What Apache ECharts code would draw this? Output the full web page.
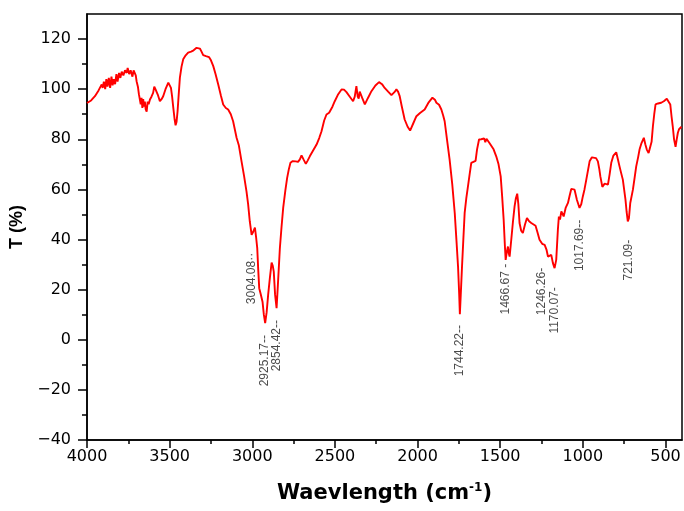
<!DOCTYPE html>
<html>
<head>
<meta charset="utf-8">
<script src="https://cdn.jsdelivr.net/npm/echarts@6/dist/echarts.min.js"></script>
<style>html,body{margin:0;padding:0;background:#fff;}#chart{width:684px;height:511px;}</style>
</head>
<body>
<div id="chart"></div>
<script>
// Wavenumber (cm-1), descending
const wavenumbers = [4000,3975,3952,3930,3911,3905,3898,3890,3883,3876,3868,3860,3852,3845,3838,3830,3822,3815,3806,3798,3790,3780,3770,3760,3754,3745,3736,3725,3718,3714,3705,3700,3692,3686,3680,3675,3670,3665,3660,3655,3650,3645,3639,3633,3627,3619,3610,3600,3593,3586,3579,3570,3559,3549,3539,3525,3508,3500,3492,3485,3478,3470,3464,3458,3452,3445,3438,3428,3418,3403,3388,3370,3355,3337,3325,3317,3307,3297,3280,3262,3250,3236,3222,3206,3190,3176,3160,3146,3130,3116,3095,3081,3065,3050,3035,3025,3015,3004,2995,2984,2977,2970,2964,2958,2948,2938,2930,2922,2913,2904,2893,2883,2876,2870,2862,2853,2845,2833,2823,2813,2800,2789,2779,2769,2755,2737,2723,2712,2702,2690,2676,2665,2652,2632,2611,2595,2581,2565,2551,2535,2527,2515,2501,2480,2460,2445,2430,2410,2390,2380,2370,2362,2356,2350,2344,2335,2319,2300,2279,2255,2233,2215,2199,2178,2158,2140,2128,2118,2108,2095,2078,2060,2045,2037,2025,2007,1985,1957,1935,1910,1895,1886,1870,1856,1845,1836,1822,1806,1790,1775,1765,1755,1748,1744,1740,1731,1723,1715,1705,1695,1685,1675,1662,1649,1640,1628,1615,1604,1597,1590,1583,1574,1565,1554,1540,1524,1510,1497,1488,1479,1472,1467,1460,1453,1448,1443,1433,1423,1413,1405,1397,1390,1383,1373,1363,1350,1338,1325,1312,1300,1286,1275,1262,1246,1231,1220,1211,1201,1191,1181,1171,1161,1151,1145,1138,1130,1116,1104,1090,1080,1070,1060,1050,1036,1020,1010,1000,990,979,959,945,933,920,909,900,894,882,868,848,838,828,815,798,788,778,768,758,742,735,728,721,713,697,687,677,665,657,645,631,622,613,602,592,584,576,568,560,545,526,510,492,480,471,463,456,448,439,432,425,418,411,403];
// Transmittance (%)
const transmittance = [94.5,95.5,97.2,99.5,101.9,100.5,103,100,104,101,104.5,100.5,105,101.5,104,102,106,103,106.5,104.5,107,105.5,107.5,106.5,108.5,106,107.5,105,107.5,107.2,105.5,103.2,101,98,97.9,94,96.5,92.5,96,93,95,92,91,95,94,95.9,97,98.5,101,100,99.9,97.5,95.2,96,97.2,100,102.6,102,100.5,97,92.6,88,85.6,87,91.2,98,104.6,109,111.9,113.5,114.6,115,115.5,116.5,116.2,116.2,115,113.6,113.2,112.8,111.5,109.2,106,101.9,97.5,93.9,92.5,91.9,90,87.2,80.6,77.5,71.2,65.5,59.2,54,47.2,41.9,43,44.8,41,36.6,28,20.6,18,15.2,10,6.6,11,17.9,25,30.8,29.5,27.2,18,12.6,22,36.6,45,52.6,59.5,64.6,68,70.6,71.3,71.2,71,72,73.6,72,70.2,71.5,73.2,75.5,77.9,80.5,83.2,87.5,89.9,90.6,91,93,95.2,98,99.9,99.8,98.8,97,95.2,97,101.2,97,96.2,99,98.8,96.5,93.9,96.5,99.2,101.5,102.8,102,100.5,99,97.6,98.8,99.9,99,97.2,93,87.9,85,83.5,83.9,86.5,89.2,90.5,91.9,94.5,96.6,95.8,94.6,93.8,91.9,89.5,87.2,80,71.9,62,50.6,40,29.2,18,10.2,16,29.2,40,50.6,56.5,61.2,66,70.6,71,71.4,76,79.9,80,79.6,80.3,78.8,80.2,79.5,78.5,77.9,76,73.2,70,65.2,57,47.9,38,31.9,35,37.2,34.5,33.2,39.9,47,53.2,56.5,58.3,54,46.6,43.5,42.6,46,48.6,47.3,46.6,46.2,45.5,43,39.9,38.3,37.9,36,33.2,33.5,33.9,30.6,28.6,31.9,43.9,49.2,48,51.2,49.2,52.6,54.6,57.5,60.2,60.3,59.9,55.9,52.6,54,57.2,60,63.9,71.2,72.8,73.5,72.5,71.2,68,65.2,61,62.3,61.9,66,70.6,73.5,74.8,72,69.2,66.5,63.9,55.9,51,47.2,48.5,54.6,59.9,64.5,69.2,73,75.9,78.5,80.6,78,75.9,74.5,73.9,79,85.2,90,93.9,94.3,94.6,95.2,96.2,95.5,93.9,89,85.2,80,77,80,82.6,84,84.6,85];

// Peak annotations
const peakWavenumbers = [3004.08,2925.17,2854.42,1744.22,1466.67,1246.26,1170.07,1017.69,721.09];
const peakTexts = ['3004.08\u00b7\u00b7','2925.17--','2854.42--','1744.22--','1466.67 -','1246.26-','1170.07-','1017.69--','721.09-'];
const peakLabelT = [34.7,1.9,7.9,5.9,30.3,28.7,21,47.9,39.9];

// Tick values
const xMajorTicks = [500,1000,1500,2000,2500,3000,3500,4000];
const xMinorTicks = [750,1250,1750,2250,2750,3250,3750];
const yMajorTicks = [-40,-20,0,20,40,60,80,100,120];
const yMinorTicks = [-30,-10,10,30,50,70,90,110];

const spectrum = wavenumbers.map((w, i) => [w, transmittance[i]]);
const peaks = peakWavenumbers.map((w, i) => ({ value: [w, peakLabelT[i]], name: peakTexts[i] }));

const fmt = v => String(v).replace('-', '\u2212');
const tickFont = { fontFamily: 'DejaVu Sans', fontSize: 16, color: '#000', formatter: fmt };

const chart = echarts.init(document.getElementById('chart'), null, { renderer: 'canvas' });
chart.setOption({
  animation: false,
  backgroundColor: '#fff',
  grid: { left: 87, right: 2, top: 14, bottom: 71, show: true, borderColor: '#000', borderWidth: 1.5, backgroundColor: 'transparent' },
  xAxis: [
    {
      type: 'value', min: 400, max: 4000, inverse: true, position: 'bottom',
      name: 'Waevlength (cm{sup|-1})', nameLocation: 'middle', nameGap: 42,
      nameTextStyle: { fontFamily: 'DejaVu Sans', fontWeight: 'bold', fontSize: 21, color: '#000',
        rich: { sup: { fontFamily: 'DejaVu Sans', fontWeight: 'bold', fontSize: 12, color: '#000', verticalAlign: 'top', padding: [0, 0, 12, 0] } } },
      axisLine: { show: true, onZero: false, lineStyle: { color: '#000', width: 1.5 } },
      axisTick: { show: true, length: 8, customValues: xMajorTicks, lineStyle: { color: '#000', width: 1.5 } },
      axisLabel: Object.assign({ customValues: xMajorTicks, margin: 9 }, tickFont),
      splitLine: { show: false }
    },
    {
      type: 'value', min: 400, max: 4000, inverse: true, position: 'bottom',
      axisLine: { show: false, onZero: false },
      axisTick: { show: true, length: 4, customValues: xMinorTicks, lineStyle: { color: '#000', width: 1.5 } },
      axisLabel: { show: false },
      splitLine: { show: false }
    }
  ],
  yAxis: [
    {
      type: 'value', min: -40, max: 130, position: 'left',
      name: 'T (%)', nameLocation: 'middle', nameGap: 60,
      nameTextStyle: { fontFamily: 'Liberation Sans', fontWeight: 'bold', fontSize: 18, color: '#000' },
      axisLine: { show: true, onZero: false, lineStyle: { color: '#000', width: 1.5 } },
      axisTick: { show: true, length: 9, customValues: yMajorTicks, lineStyle: { color: '#000', width: 1.5 } },
      axisLabel: Object.assign({ customValues: yMajorTicks, margin: 16 }, tickFont),
      splitLine: { show: false }
    },
    {
      type: 'value', min: -40, max: 130, position: 'left',
      axisLine: { show: false, onZero: false },
      axisTick: { show: true, length: 5, customValues: yMinorTicks, lineStyle: { color: '#000', width: 1.5 } },
      axisLabel: { show: false },
      splitLine: { show: false }
    }
  ],
  series: [
    {
      type: 'line', data: spectrum, xAxisIndex: 0, yAxisIndex: 0,
      showSymbol: false, symbol: 'none',
      lineStyle: { color: '#ff0000', width: 1.9 },
      silent: true
    },
    {
      type: 'scatter', data: peaks, xAxisIndex: 0, yAxisIndex: 0,
      symbolSize: 0.01, silent: true,
      label: {
        show: true, position: [0, 0], rotate: 90, align: 'right', verticalAlign: 'middle',
        formatter: p => p.name,
        fontFamily: 'Liberation Sans', fontSize: 12, color: '#1a1a1a'
      }
    }
  ]
});
</script>
</body>
</html>
